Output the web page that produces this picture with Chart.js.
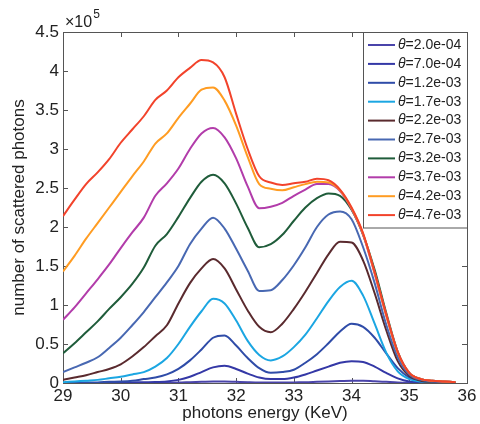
<!DOCTYPE html>
<html>
<head>
<meta charset="utf-8">
<script src="https://cdn.jsdelivr.net/npm/chart.js@4/dist/chart.umd.min.js"></script>
<style>
  html, body { margin: 0; padding: 0; background: #fff; }
  #wrap { width: 480px; height: 424px; position: relative; }
</style>
</head>
<body>
<div id="wrap"><canvas id="photonChart"></canvas></div>
<script>
// photon energy (KeV)
const energy = [29.0, 29.2, 29.4, 29.6, 29.8, 30.0, 30.2, 30.4, 30.6, 30.8, 31.0, 31.2, 31.4, 31.6, 31.8,
                32.0, 32.2, 32.4, 32.6, 32.8, 33.0, 33.2, 33.4, 33.6, 33.8, 34.0, 34.2, 34.4, 34.6, 34.8,
                35.0, 35.2, 35.4, 35.6, 35.8];

// scattered photons, in units of 1e5
const theta_2_0e_04 = [0, 0, 0, 0, 0, 0, 0, 0, 0.002, 0.003, 0.005, 0.01, 0.015, 0.02, 0.02, 0.015, 0.01, 0.006,
                       0.005, 0.005, 0.008, 0.01, 0.015, 0.02, 0.025, 0.03, 0.03, 0.022, 0.015, 0.008, 0.004, 0.002, 0.001, 0, 0];
const theta_7_0e_04 = [0, 0, 0, 0, 0, 0.005, 0.007, 0.01, 0.012, 0.02, 0.04, 0.08, 0.14, 0.2, 0.22, 0.18, 0.12, 0.07,
                       0.05, 0.05, 0.07, 0.11, 0.16, 0.21, 0.26, 0.28, 0.27, 0.21, 0.13, 0.06, 0.02, 0.01, 0.003, 0.001, 0];
const theta_1_2e_03 = [0, 0, 0.005, 0.008, 0.015, 0.02, 0.03, 0.05, 0.07, 0.11, 0.18, 0.29, 0.43, 0.58, 0.61, 0.48, 0.32, 0.19,
                       0.13, 0.14, 0.17, 0.26, 0.37, 0.51, 0.66, 0.76, 0.72, 0.58, 0.38, 0.19, 0.07, 0.02, 0.008, 0.003, 0.001];
const theta_1_7e_03 = [0.01, 0.02, 0.03, 0.04, 0.06, 0.08, 0.11, 0.14, 0.21, 0.32, 0.50, 0.72, 0.92, 1.08, 1.02, 0.80, 0.54, 0.36,
                       0.29, 0.34, 0.46, 0.62, 0.83, 1.05, 1.23, 1.31, 1.12, 0.76, 0.39, 0.15, 0.05, 0.02, 0.01, 0.005, 0.002];
const theta_2_2e_03 = [0.04, 0.07, 0.10, 0.14, 0.18, 0.24, 0.34, 0.46, 0.60, 0.74, 1.02, 1.28, 1.47, 1.59, 1.47, 1.20, 0.93, 0.72,
                       0.65, 0.76, 0.95, 1.17, 1.41, 1.65, 1.81, 1.80, 1.57, 1.15, 0.68, 0.28, 0.09, 0.03, 0.015, 0.008, 0.004];
const theta_2_7e_03 = [0.14, 0.20, 0.26, 0.33, 0.45, 0.58, 0.74, 0.91, 1.10, 1.29, 1.50, 1.78, 1.98, 2.12, 1.98, 1.72, 1.44, 1.18,
                       1.19, 1.32, 1.51, 1.74, 2.00, 2.16, 2.20, 2.10, 1.74, 1.28, 0.75, 0.33, 0.11, 0.04, 0.02, 0.01, 0.005];
const theta_3_2e_03 = [0.38, 0.51, 0.65, 0.79, 0.95, 1.10, 1.27, 1.48, 1.76, 1.91, 2.13, 2.37, 2.58, 2.67, 2.56, 2.30, 1.99, 1.74,
                       1.78, 1.90, 2.08, 2.25, 2.37, 2.43, 2.40, 2.22, 1.90, 1.45, 0.90, 0.40, 0.13, 0.05, 0.03, 0.02, 0.01];
const theta_3_7e_03 = [0.81, 0.97, 1.15, 1.33, 1.52, 1.73, 1.93, 2.12, 2.40, 2.56, 2.75, 3.00, 3.20, 3.27, 3.15, 2.88, 2.52, 2.24,
                       2.26, 2.31, 2.40, 2.48, 2.55, 2.55, 2.46, 2.23, 1.90, 1.40, 0.87, 0.39, 0.13, 0.05, 0.03, 0.02, 0.01];
const theta_4_2e_03 = [1.43, 1.63, 1.85, 2.05, 2.25, 2.45, 2.65, 2.84, 3.07, 3.20, 3.40, 3.58, 3.76, 3.79, 3.62, 3.30, 2.90, 2.55,
                       2.49, 2.47, 2.51, 2.55, 2.58, 2.57, 2.47, 2.24, 1.91, 1.41, 0.87, 0.39, 0.13, 0.05, 0.03, 0.02, 0.01];
const theta_4_7e_03 = [2.14, 2.35, 2.55, 2.70, 2.87, 3.08, 3.25, 3.42, 3.63, 3.75, 3.92, 4.04, 4.14, 4.11, 3.92, 3.45, 3.00, 2.65,
                       2.57, 2.54, 2.56, 2.58, 2.62, 2.60, 2.48, 2.25, 1.92, 1.42, 0.88, 0.40, 0.13, 0.05, 0.03, 0.02, 0.01];

const thetaLabels = ["2.0e-04", "7.0e-04", "1.2e-03", "1.7e-03", "2.2e-03", "2.7e-03", "3.2e-03", "3.7e-03", "4.2e-03", "4.7e-03"];
const seriesValues = [theta_2_0e_04, theta_7_0e_04, theta_1_2e_03, theta_1_7e_03, theta_2_2e_03,
                      theta_2_7e_03, theta_3_2e_03, theta_3_7e_03, theta_4_2e_03, theta_4_7e_03];
const lineColors = ["#4a44aa", "#3438a6", "#2f4ca8", "#1ba6e2", "#5a2a2e", "#4868b2", "#1f5c3a", "#b23caa", "#ff9c22", "#f2432b"];

const xTicks = [29, 30, 31, 32, 33, 34, 35, 36];
const yTicks = [0, 0.5, 1, 1.5, 2, 2.5, 3, 3.5, 4, 4.5];

const FONT = "'Liberation Sans', Arial, Helvetica, sans-serif";
const TEXT = "#222";
const FRAME = "#555";

const datasets = seriesValues.map((vals, i) => ({
    label: "θ=" + thetaLabels[i],
    data: vals.map((v, k) => ({ x: energy[k], y: v })),
    borderColor: lineColors[i],
    backgroundColor: lineColors[i],
    borderWidth: 2,
    pointRadius: 0,
    cubicInterpolationMode: "monotone",
    fill: false,
    order: seriesValues.length - i
}));

// matlab style box with inward ticks
const framePlugin = {
    id: "frame",
    beforeDatasetsDraw(chart) {
        const { ctx, chartArea: a, scales } = chart;
        ctx.save();
        ctx.strokeStyle = FRAME;
        ctx.lineWidth = 1;
        ctx.strokeRect(a.left + 0.5, a.top + 0.5, a.right - a.left, a.bottom - a.top);
        ctx.beginPath();
        xTicks.forEach(t => {
            const x = Math.round(scales.x.getPixelForValue(t)) + 0.5;
            ctx.moveTo(x, a.bottom); ctx.lineTo(x, a.bottom - 5);
            ctx.moveTo(x, a.top); ctx.lineTo(x, a.top + 5);
        });
        yTicks.forEach(t => {
            const y = Math.round(scales.y.getPixelForValue(t)) + 0.5;
            ctx.moveTo(a.left, y); ctx.lineTo(a.left + 5, y);
            ctx.moveTo(a.right, y); ctx.lineTo(a.right - 5, y);
        });
        ctx.stroke();
        // exponent label
        ctx.fillStyle = TEXT;
        ctx.textBaseline = "alphabetic";
        ctx.font = "16px " + FONT;
        ctx.fillText("×10", a.left + 2, a.top - 5);
        const w = ctx.measureText("×10").width;
        ctx.font = "12px " + FONT;
        ctx.fillText("5", a.left + 3 + w, a.top - 14);
        ctx.restore();
    },
    afterDatasetsDraw(chart) {
        const { ctx, chartArea: a } = chart;
        const boxL = 363, boxR = a.right + 0.5, boxT = a.top + 0.5, rowH = 18.9;
        const boxB = boxT + 12.5 + rowH * datasets.length - 6;
        ctx.save();
        ctx.fillStyle = "#fff";
        ctx.fillRect(boxL, boxT, boxR - boxL, boxB - boxT);
        ctx.strokeStyle = FRAME;
        ctx.lineWidth = 1;
        ctx.strokeRect(boxL + 0.5, boxT, boxR - boxL - 0.5, boxB - boxT);
        chart.data.datasets.forEach((ds, i) => {
            const y = boxT + 12.5 + i * rowH;
            ctx.strokeStyle = ds.borderColor;
            ctx.lineWidth = 2;
            ctx.beginPath();
            ctx.moveTo(368, y); ctx.lineTo(395, y);
            ctx.stroke();
            ctx.fillStyle = TEXT;
            ctx.textBaseline = "middle";
            ctx.font = "italic 14px " + FONT;
            const parts = ds.label.split("=");
            ctx.fillText(parts[0], 398, y);
            const tw = ctx.measureText(parts[0]).width;
            ctx.font = "14px " + FONT;
            ctx.fillText("=" + parts[1], 398 + tw, y);
        });
        ctx.restore();
    }
};

new Chart(document.getElementById("photonChart"), {
    type: "line",
    data: { datasets: datasets },
    options: {
        responsive: true,
        maintainAspectRatio: false,
        animation: false,
        layout: { padding: { top: 32, right: 13, left: 0, bottom: 0 } },
        plugins: {
            legend: { display: false },
            tooltip: { enabled: false }
        },
        scales: {
            x: {
                type: "linear",
                min: 29,
                max: 36,
                afterFit(scale) { scale.height = 41; },
                afterBuildTicks(scale) { scale.ticks = xTicks.map(v => ({ value: v })); },
                grid: { display: false, drawTicks: false },
                border: { display: false },
                ticks: { color: TEXT, padding: 3, font: { family: FONT, size: 17 } },
                title: {
                    display: true,
                    text: "photons energy (KeV)",
                    color: TEXT,
                    font: { family: FONT, size: 17 },
                    padding: { top: 0, bottom: 0 }
                }
            },
            y: {
                min: 0,
                max: 4.5,
                afterFit(scale) { scale.width = 63; },
                afterBuildTicks(scale) { scale.ticks = yTicks.map(v => ({ value: v })); },
                grid: { display: false, drawTicks: false },
                border: { display: false },
                ticks: {
                    color: TEXT,
                    padding: 4,
                    font: { family: FONT, size: 17 },
                    callback: v => String(v)
                },
                title: {
                    display: true,
                    text: "number of scattered photons",
                    color: TEXT,
                    font: { family: FONT, size: 17 },
                    padding: { top: 9, bottom: 0 }
                }
            }
        }
    },
    plugins: [framePlugin]
});
</script>
</body>
</html>
